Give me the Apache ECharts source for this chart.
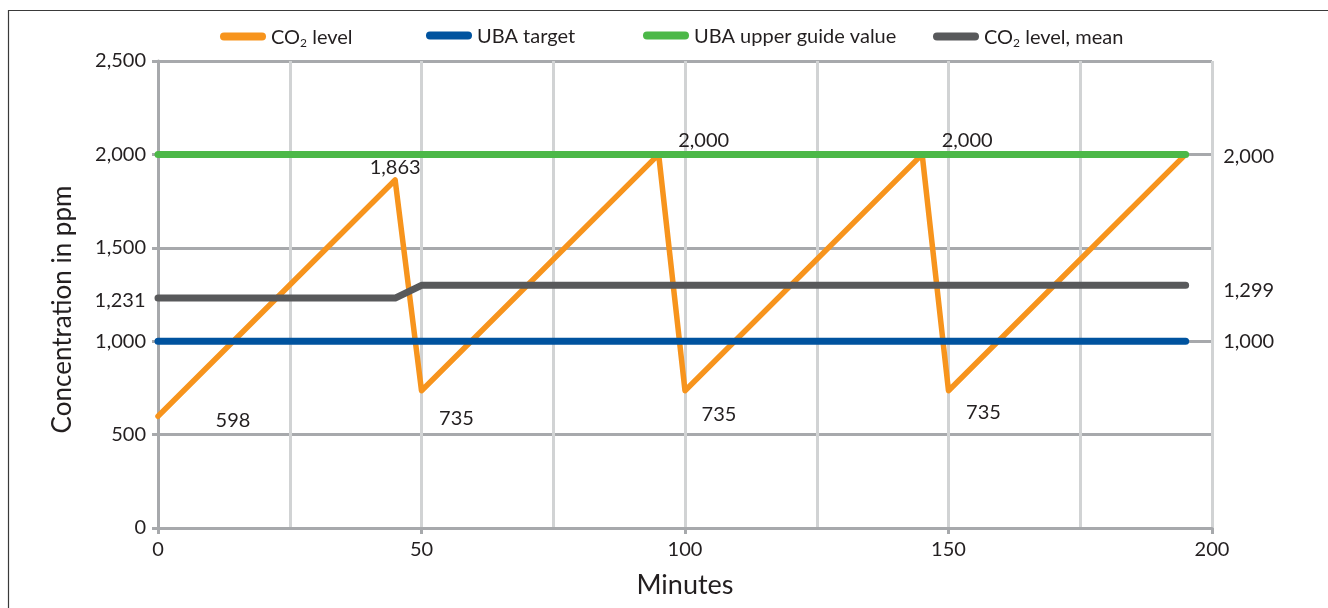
<!DOCTYPE html>
<html>
<head>
<meta charset="utf-8">
<script src="https://cdn.jsdelivr.net/npm/echarts@6/dist/echarts.min.js"></script>
<style>
html,body{margin:0;padding:0;background:#fff;}
#c{width:1328px;height:608px;}
</style>
</head>
<body>
<div id="c"></div>
<script>
// ---- data ----
var co2Minutes = [0, 45, 50, 95, 100, 145, 150, 195];
var co2Values  = [598, 1863, 735, 2000, 735, 2000, 735, 2000];
var targetMinutes = [0, 195];
var targetValues  = [1000, 1000];
var guideMinutes  = [0, 195];
var guideValues   = [2000, 2000];
var meanMinutes   = [0, 45, 50, 195];
var meanValues    = [1231, 1231, 1299, 1299];
var seriesNames = ['CO2 level', 'UBA target', 'UBA upper guide value', 'CO2 level, mean'];
var xTicks = [0, 50, 100, 150, 200];
var yTicks = [0, 500, 1000, 1500, 2000, 2500];

function fmt(v){ return v.toLocaleString('en-US'); }
function pairs(xs, ys){ return xs.map(function(x,i){ return [x, ys[i]]; }); }

// label styling per data index (positions kept here, not in data)
var co2LabelOffsets = {0:[75,4], 1:[0,-12], 2:[35,28], 3:[45,-14], 4:[34,24], 5:[45,-14], 6:[35,22]};

var FONT = 'Lato';
var TXT = '#231f20';

function co2Data(){
  return pairs(co2Minutes, co2Values).map(function(p, i){
    var o = co2LabelOffsets[i];
    var item = {value: p};
    if (o) {
      item.label = {show:true, position:'inside', offset:o, formatter: fmt(p[1])};
    }
    return item;
  });
}
function endLabelData(xs, ys, rightOffsetY, leftLabel){
  return pairs(xs, ys).map(function(p, i){
    var item = {value: p};
    if (i === xs.length - 1 && rightOffsetY !== null) {
      item.label = {show:true, position:'right', distance:37, offset:[0, rightOffsetY], formatter: fmt(p[1])};
    }
    if (i === 0 && leftLabel) {
      item.label = {show:true, position:'left', distance:12, offset:[0, 2], formatter: fmt(p[1])};
    }
    return item;
  });
}

var colors = ['#f7941d', '#00539f', '#4cb848', '#58595b'];
var iconPath = 'path://M4,0 L42,0 A4,4 0 0 1 42,8 L4,8 A4,4 0 0 1 4,0 Z';
var legendLefts = [215, 421, 638, 928];

function legendFormatter(name){
  if (name === 'CO2 level') return '{a|CO}{s|2}{a| level}';
  if (name === 'CO2 level, mean') return '{a|CO}{s|2}{a| level, mean}';
  return '{a|' + name + '}';
}

var legends = seriesNames.map(function(n, i){
  return {
    data: [n],
    left: legendLefts[i],
    top: 19,
    itemWidth: 46,
    itemHeight: 8,
    itemGap: 6,
    icon: iconPath,
    formatter: legendFormatter,
    selectedMode: false,
    itemStyle: {color: colors[i], opacity: 1, borderWidth: 0},
    textStyle: {
      color: TXT, fontFamily: FONT, fontSize: 20,
      rich: {
        a: {fontFamily: FONT, fontSize: 20, color: TXT, lineHeight: 22, padding:[3,0,0,0]},
        s: {fontFamily: FONT, fontSize: 12, color: TXT, lineHeight: 22, padding:[13,0,0,0]}
      }
    }
  };
});

var lineBase = function(name, data, color, width, z){
  return {
    name: name, type: 'line', data: data,
    symbol: 'circle', symbolSize: 1, showSymbol: true,
    itemStyle: {color: color},
    lineStyle: {color: color, width: width, cap: 'round', join: 'round'},
    label: {show: false, color: TXT, fontFamily: FONT, fontSize: 20},
    emphasis: {disabled: true},
    animation: false, z: z
  };
};

var chart = echarts.init(document.getElementById('c'), null, {renderer:'canvas'});
chart.setOption({
  backgroundColor: '#fff',
  color: colors,
  legend: legends,
  grid: {left: 158, right: 116, top: 61, bottom: 80, containLabel: false},
  graphic: [{
    type: 'polyline', silent: true, z: 100,
    shape: {points: [[8.5, 608], [8.5, 10.5], [1328, 10.5]]},
    style: {stroke: '#3a3a3a', lineWidth: 1.2, fill: null}
  }],
  xAxis: {
    type: 'value', min: xTicks[0], max: xTicks[xTicks.length-1], interval: 50,
    name: 'Minutes', nameLocation: 'middle', nameGap: 44,
    nameTextStyle: {color: TXT, fontFamily: FONT, fontSize: 27},
    axisLine: {show: true, lineStyle: {color: '#a7a9ac', width: 3}},
    axisTick: {show: true, length: 6, lineStyle: {color: '#a7a9ac', width: 3}},
    axisLabel: {color: TXT, fontFamily: FONT, fontSize: 20, margin: 12, formatter: function(v){return fmt(v);}},
    splitLine: {show: true, lineStyle: {color: '#d1d3d4', width: 3}},
    minorTick: {show: false, splitNumber: 2},
    minorSplitLine: {show: true, lineStyle: {color: '#d1d3d4', width: 3}}
  },
  yAxis: {
    type: 'value', min: yTicks[0], max: yTicks[yTicks.length-1], interval: 500,
    name: 'Concentration in ppm', nameLocation: 'middle', nameGap: 82,
    nameTextStyle: {color: TXT, fontFamily: FONT, fontSize: 26, padding: [0, 30, 0, 0]},
    axisLine: {show: true, lineStyle: {color: '#a7a9ac', width: 3}},
    axisTick: {show: true, length: 6, lineStyle: {color: '#a7a9ac', width: 3}},
    axisLabel: {color: TXT, fontFamily: FONT, fontSize: 20, margin: 12, formatter: function(v){return fmt(v);}},
    splitLine: {show: true, lineStyle: {color: '#a7a9ac', width: 3}}
  },
  series: [
    lineBase(seriesNames[0], co2Data(), colors[0], 5.5, 2),
    lineBase(seriesNames[1], endLabelData(targetMinutes, targetValues, 0, false), colors[1], 7, 3),
    lineBase(seriesNames[2], endLabelData(guideMinutes, guideValues, 2, false), colors[2], 7, 4),
    lineBase(seriesNames[3], endLabelData(meanMinutes, meanValues, 5, true), colors[3], 7, 5)
  ]
});
</script>
</body>
</html>
